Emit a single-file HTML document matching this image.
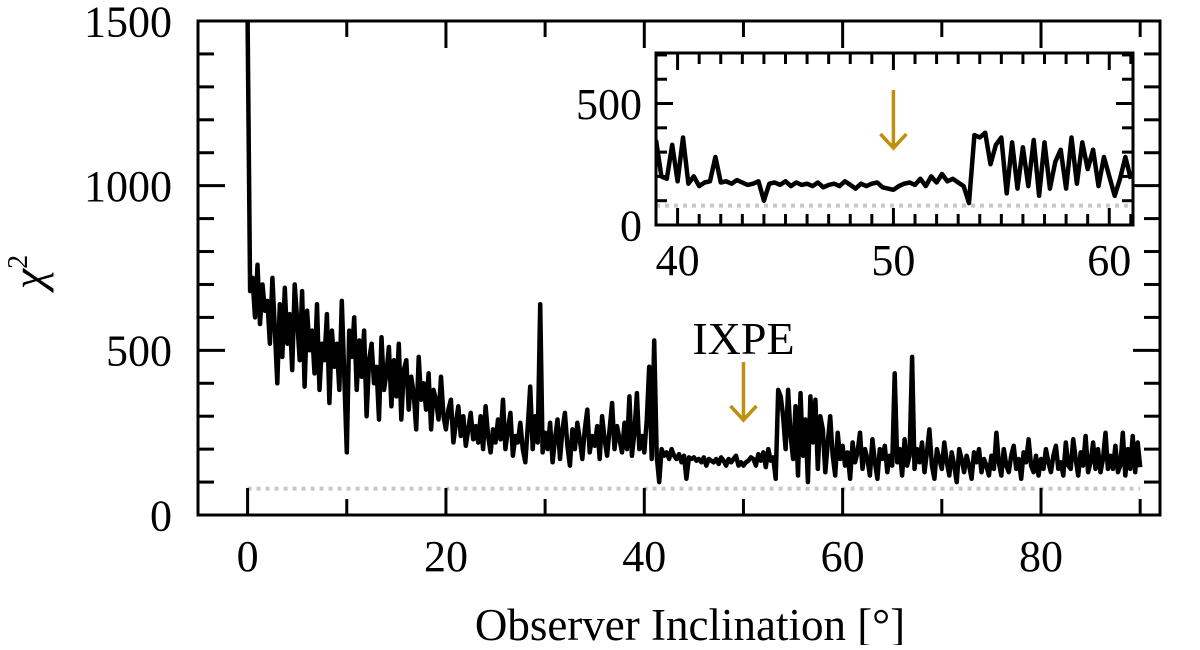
<!DOCTYPE html>
<html><head><meta charset="utf-8"><style>
body{margin:0;background:#fff}
svg text{font-family:"Liberation Serif",serif;fill:#000}
</style></head><body>
<svg id="chart" width="1200" height="645" viewBox="0 0 1200 645" xmlns="http://www.w3.org/2000/svg">
<g id="main"></g>
<g id="inset"></g>
<text x="690" y="640" font-size="45" text-anchor="middle">Observer Inclination [°]</text>
<text transform="translate(44,272) rotate(-90)" font-size="46" text-anchor="middle" font-style="italic">χ<tspan font-size="28" dy="-17" font-style="normal">2</tspan></text>
</svg>
<script>
const mainStart = 0, mainStep = 0.25;
const mainValues = [1500,680,720,600, 760,580,700,620, 650,520,720,560, 400,640,480,690, 520,610,440,700, 590,470,680,390, 620,500,560,430, 640,380,520,470, 610,340,560,450, 520,380,650,420,
190,560,480,600, 380,530,420,560, 300,470,520,400, 450,290,540,380, 430,510,330,470, 360,520,290,440, 470,320,420,370, 260,480,350,400, 320,430,260,380, 350,290,420,300,
260,320,350,220, 280,330,240,300, 210,260,310,230, 270,220,300,200, 330,240,190,260, 220,290,230,350, 200,260,310,180, 240,220,280,200, 160,270,390,200, 300,220,640,190,
250,200,280,160, 230,290,170,260, 310,210,150,260, 200,280,230,170, 260,320,190,240, 210,270,170,300, 230,180,260,340, 200,270,230,190, 280,200,360,180, 250,370,200,240,
190,290,450,170, 530,180,100,200, 180,190,170,200, 180,170,185,160, 180,110,175,170, 175,165,170,160, 175,150,170,165, 160,170,155,175, 165,150,170,160, 170,180,150,160,
150,160,165,175, 170,150,185,165, 190,145,200,165, 175,110,380,360, 300,200,380,240, 170,330,120,370, 180,290,100,360, 220,350,140,300, 260,130,220,300, 180,120,250,170,
210,150,190,110, 220,160,190,250, 140,200,170,120, 230,160,110,200, 170,210,130,180, 150,430,160,200, 120,230,150,180, 480,140,200,160, 220,130,190,260, 150,110,200,170,
140,220,160,120, 190,150,100,200, 170,130,180,150, 110,190,160,200, 130,170,150,120, 180,140,250,160, 120,200,150,130, 180,210,140,170, 110,190,160,230, 150,130,180,120,
170,140,200,160, 130,180,210,140, 160,120,220,150, 140,230,170,120, 190,150,240,130, 160,220,140,200, 130,170,250,140, 180,140,210,130, 150,250,120,200, 140,240,130,220, 145];
const insetStart = 39, insetStep = 0.25;
const insetValues = [350,200,190,330, 180,360,170,200, 160,175,180,280, 175,180,170,185, 175,165,170,180, 100,170,175,165, 180,160,175,165, 170,160,175,155, 165,170,160,180, 165,150,170,160,
170,175,155,150, 145,160,170,175, 165,190,160,200, 175,210,180,190, 175,160,90,370, 360,380,250,330, 360,130,340,150, 320,160,350,120, 340,150,260,310, 150,360,170,340, 230,310,160,280, 200,120,190,280, 190];
const refLevel = 80;
const mainYTicks = [0,500,1000,1500];
const mainXTicks = [0,20,40,60,80];
const insetYTicks = [0,500];
const insetXTicks = [40,50,60];
const markerX = 50;
const markerLabel = "IXPE";

const NS="http://www.w3.org/2000/svg";
function mk(parent,tag,attrs){const e=document.createElementNS(NS,tag);for(const k in attrs)e.setAttribute(k,attrs[k]);parent.appendChild(e);return e;}
const gold="#BF900C";

function drawPanel(g,box,xr,yr,xs,vals,opts){
  const sx=v=>box.l+(v-xr[0])/(xr[1]-xr[0])*(box.r-box.l);
  const sy=v=>box.b-(v-yr[0])/(yr[1]-yr[0])*(box.b-box.t);
  const clipId=opts.id+"-clip";
  const cp=mk(g,"clipPath",{id:clipId});mk(cp,"rect",{x:box.l,y:box.t,width:box.r-box.l,height:box.b-box.t});
  const ref=mk(g,"line",{x1:sx(opts.refFrom),x2:sx(opts.refTo),y1:sy(refLevel),y2:sy(refLevel),stroke:"#c8c8c8","stroke-width":4,"stroke-dasharray":"4,5"});
  
  
  let d="";vals.forEach((v,i)=>{d+=(i?"L":"M")+sx(xs+i*opts.step).toFixed(1)+","+sy(v).toFixed(1);});
  const p=mk(g,"path",{d:d,fill:"none",stroke:"#000","stroke-width":opts.lw,"stroke-linejoin":"round","clip-path":"url(#"+clipId+")"});
  
  
  const f=mk(g,"rect",{x:box.l,y:box.t,width:box.r-box.l,height:box.b-box.t,fill:"none",stroke:"#000","stroke-width":3});
  
  
  for(let v=Math.ceil(xr[0]/opts.xMinor)*opts.xMinor;v<=xr[1];v+=opts.xMinor){
    const major=opts.xTicks.includes(Math.round(v));const L=major?opts.majL:opts.minL;const x=sx(v);
    mk(g,"line",{x1:x,x2:x,y1:box.b,y2:box.b-L,stroke:"#000","stroke-width":3});
    mk(g,"line",{x1:x,x2:x,y1:box.t,y2:box.t+L,stroke:"#000","stroke-width":3});
  }
  for(let v=0;v<=yr[1];v+=opts.yMinor){
    const major=opts.yTicks.includes(v);const L=major?opts.majL:opts.minL;const y=sy(v);
    if(y<box.t-1)continue;
    mk(g,"line",{x1:box.l,x2:box.l+L,y1:y,y2:y,stroke:"#000","stroke-width":3});
    mk(g,"line",{x1:box.r,x2:box.r-L,y1:y,y2:y,stroke:"#000","stroke-width":3});
  }
  opts.xTicks.forEach(v=>{const t=mk(g,"text",{x:sx(v),y:box.b+opts.xLabOff,"font-size":opts.fs,"text-anchor":"middle"});t.textContent=v;
    
    });
  opts.yTicks.forEach(v=>{const t=mk(g,"text",{x:box.l-opts.yLabOff,y:sy(v)+opts.fs*0.35,"font-size":opts.fs,"text-anchor":"end"});t.textContent=v;
    
    });
  return {sx,sy};
}
const mainG=document.getElementById("main");
const m=drawPanel(mainG,{l:198,r:1160,t:21,b:515},[-5,92],[0,1500],mainStart,mainValues,
  {id:"main",step:mainStep,lw:4.5,refFrom:0,refTo:90,xMinor:10,xTicks:mainXTicks,yMinor:100,yTicks:mainYTicks,majL:27,minL:16,fs:44,xLabOff:56,yLabOff:26});
const insetG=document.getElementById("inset");
mk(insetG,"rect",{x:656,y:53,width:477,height:172,fill:"#fff"});
const n=drawPanel(insetG,{l:656,r:1133,t:53,b:225},[39,61.1],[0,708],insetStart,insetValues,
  {id:"inset",step:insetStep,lw:4.5,refFrom:39,refTo:61,xMinor:1,xTicks:insetXTicks,yMinor:100,yTicks:insetYTicks,majL:17,minL:11,fs:44,xLabOff:50,yLabOff:14});
const a1=mk(mainG,"text",{x:m.sx(markerX),y:354,"font-size":46,"text-anchor":"middle",fill:gold});a1.textContent=markerLabel;


function arrow(g,x,y1,y2,name){const a=mk(g,"path",{d:`M${x},${y1}L${x},${y2}M${x-13},${y2-14}L${x},${y2}L${x+13},${y2-14}`,fill:"none",stroke:gold,"stroke-width":3.5});
  
  }
arrow(mainG,m.sx(markerX),362,420,'ixpe-arrow');
arrow(insetG,n.sx(markerX),90,148,'inset-ixpe-arrow');
</script>
</body></html>
